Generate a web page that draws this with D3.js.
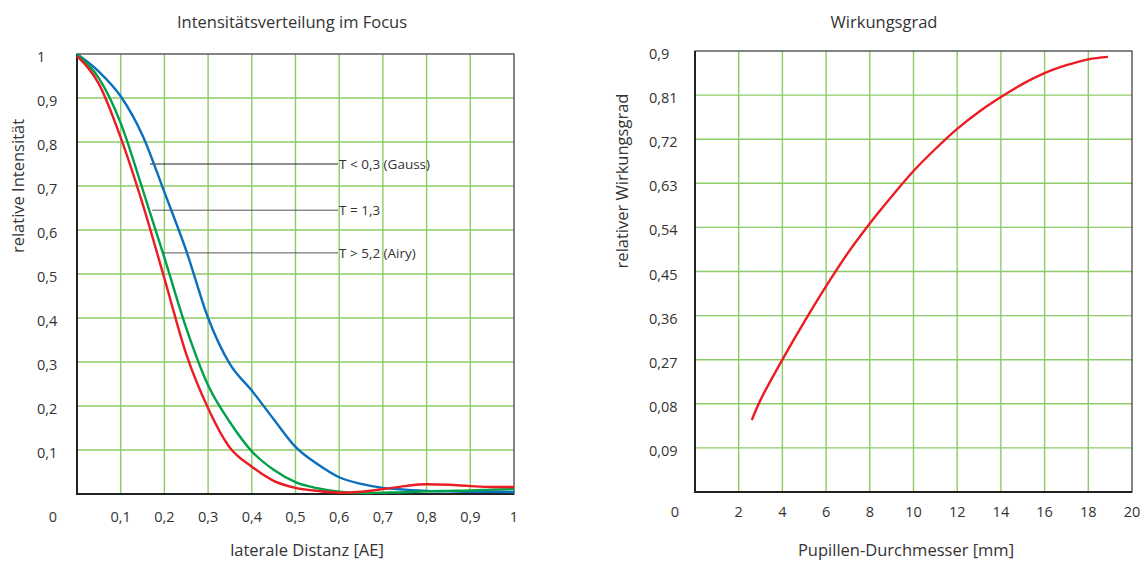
<!DOCTYPE html>
<html>
<head>
<meta charset="utf-8">
<script src="https://cdn.jsdelivr.net/npm/d3@7"></script>
<style>
    body { margin: 0; background: #fff; }
    text { font-family: "Open Sans", sans-serif; fill: #333; }
</style>
</head>
<body>
<div id="chart"></div>
<script>

// Left chart: Intensitätsverteilung im Focus
let distanz = [0, 0.05, 0.1, 0.15, 0.2, 0.25, 0.3, 0.35, 0.4, 0.45, 0.5, 0.55, 0.6, 0.65, 0.7, 0.75, 0.8, 0.85, 0.9, 0.95, 1];
let gauss = [1.0, 0.96, 0.904, 0.815, 0.686, 0.553, 0.40, 0.295, 0.235, 0.17, 0.107, 0.068, 0.038, 0.023, 0.014, 0.01, 0.007, 0.006, 0.005, 0.005, 0.004];
let mittel = [1.0, 0.945, 0.843, 0.693, 0.537, 0.377, 0.247, 0.163, 0.097, 0.055, 0.027, 0.013, 0.005, 0.002, 0.003, 0.004, 0.006, 0.007, 0.008, 0.01, 0.011];
let airy = [0.995, 0.932, 0.81, 0.66, 0.49, 0.318, 0.195, 0.105, 0.062, 0.03, 0.014, 0.007, 0.003, 0.005, 0.011, 0.018, 0.022, 0.021, 0.018, 0.016, 0.016];

let distTicks = [0.1, 0.2, 0.3, 0.4, 0.5, 0.6, 0.7, 0.8, 0.9, 1];
let distLabels = ["0,1", "0,2", "0,3", "0,4", "0,5", "0,6", "0,7", "0,8", "0,9", "1"];
let intTicks = [0.1, 0.2, 0.3, 0.4, 0.5, 0.6, 0.7, 0.8, 0.9, 1];
let intLabels = ["0,1", "0,2", "0,3", "0,4", "0,5", "0,6", "0,7", "0,8", "0,9", "1"];

// annotation labels: level, x where the line starts
let notes = ["T < 0,3 (Gauss)", "T = 1,3", "T > 5,2 (Airy)"];
let noteLevels = [0.75, 0.645, 0.548];
let noteStarts = [0.167, 0.172, 0.197];

// Right chart: Wirkungsgrad
let pupille = [2.6, 3, 4, 5, 6, 7, 8, 9, 10, 11, 12, 13, 14, 15, 16, 17, 18, 18.9];
let wirkung = [0.147, 0.188, 0.27, 0.347, 0.42, 0.488, 0.548, 0.603, 0.655, 0.7, 0.741, 0.776, 0.806, 0.833, 0.855, 0.871, 0.883, 0.888];

let pupTicks = [2, 4, 6, 8, 10, 12, 14, 16, 18, 20];
let pupLabels = ["2", "4", "6", "8", "10", "12", "14", "16", "18", "20"];
let wirkTicks = [0.09, 0.18, 0.27, 0.36, 0.45, 0.54, 0.63, 0.72, 0.81, 0.9];
let wirkLabels = ["0,09", "0,08", "0,27", "0,36", "0,45", "0,54", "0,63", "0,72", "0,81", "0,9"];

let svg = d3.select("#chart")
    .append("svg")
    .attr("width", 1145)
    .attr("height", 561);

function panel(opt) {

    let x = d3.scaleLinear().domain(opt.xDomain).range([opt.left, opt.right]);
    let y = d3.scaleLinear().domain(opt.yDomain).range([opt.bottom, opt.top]);

    let g = svg.append("g");

    // Grid
    g.selectAll(".vgrid")
        .data(opt.xTicks.slice(0, -1))
        .enter()
        .append("line")
        .attr("x1", d => x(d)).attr("x2", d => x(d))
        .attr("y1", opt.top).attr("y2", opt.bottom)
        .attr("stroke", "#8ccb66")
        .attr("stroke-width", 1.4);

    g.selectAll(".hgrid")
        .data(opt.yTicks.slice(0, -1))
        .enter()
        .append("line")
        .attr("x1", opt.left).attr("x2", opt.right)
        .attr("y1", d => y(d)).attr("y2", d => y(d))
        .attr("stroke", "#8ccb66")
        .attr("stroke-width", 1.4);

    // Frame
    g.append("rect")
        .attr("x", opt.left).attr("y", opt.top)
        .attr("width", opt.right - opt.left)
        .attr("height", opt.bottom - opt.top)
        .attr("fill", "none")
        .attr("stroke", "#444")
        .attr("stroke-width", 1.3);

    g.append("path")
        .attr("d", `M${opt.left},${opt.top}V${opt.bottom}H${opt.right}`)
        .attr("fill", "none")
        .attr("stroke", "#222")
        .attr("stroke-width", 2);

    // Tick labels
    g.selectAll(".ylab")
        .data(opt.yTicks)
        .enter()
        .append("text")
        .attr("x", opt.yLabelX)
        .attr("y", d => y(d) + 8)
        .attr("font-size", 14.5)
        .text((d, i) => opt.yLabels[i]);

    g.selectAll(".xlab")
        .data(opt.xTicks)
        .enter()
        .append("text")
        .attr("x", d => x(d))
        .attr("y", opt.xLabelY)
        .attr("text-anchor", "middle")
        .attr("font-size", 14.5)
        .text((d, i) => opt.xLabels[i]);

    g.append("text")
        .attr("x", opt.zeroX)
        .attr("y", opt.xLabelY)
        .attr("text-anchor", "middle")
        .attr("font-size", 14.5)
        .text("0");

    // Titles
    g.append("text")
        .attr("x", opt.titleX).attr("y", 28)
        .attr("text-anchor", "middle")
        .attr("font-size", 16.5)
        .text(opt.title);

    g.append("text")
        .attr("x", opt.xTitleX).attr("y", 556)
        .attr("text-anchor", "middle")
        .attr("font-size", 16.5)
        .text(opt.xTitle);

    g.append("text")
        .attr("transform", `translate(${opt.yTitleX},${opt.yTitleY}) rotate(-90)`)
        .attr("text-anchor", "middle")
        .attr("font-size", 16.5)
        .text(opt.yTitle);

    return { g, x, y };
}

// Left
let left = panel({
    left: 77, right: 514, top: 54, bottom: 494,
    xDomain: [0, 1], yDomain: [0, 1],
    xTicks: distTicks, xLabels: distLabels,
    yTicks: intTicks, yLabels: intLabels,
    yLabelX: 37, xLabelY: 522, zeroX: 53,
    title: "Intensitätsverteilung im Focus", titleX: 292,
    xTitle: "laterale Distanz [AE]", xTitleX: 307,
    yTitle: "relative Intensität", yTitleX: 24, yTitleY: 186
});

// Annotation lines
left.g.selectAll(".note-line")
    .data(notes)
    .enter()
    .append("line")
    .attr("x1", (d, i) => left.x(noteStarts[i]))
    .attr("x2", 338)
    .attr("y1", (d, i) => left.y(noteLevels[i]))
    .attr("y2", (d, i) => left.y(noteLevels[i]))
    .attr("stroke", (d, i) => i == 0 ? "#222" : "#555")
    .attr("stroke-width", 1);

left.g.selectAll(".note")
    .data(notes)
    .enter()
    .append("text")
    .attr("x", 339)
    .attr("y", (d, i) => left.y(noteLevels[i]) + 5)
    .attr("font-size", 13.5)
    .text(d => d);

let curve = d3.line()
    .x(d => left.x(d[0]))
    .y(d => left.y(d[1]))
    .curve(d3.curveMonotoneX);

let series = [
    { values: gauss, color: "#0a6fbf" },
    { values: mittel, color: "#00a14b" },
    { values: airy, color: "#ec1c24" }
];

left.g.selectAll(".curve")
    .data(series)
    .enter()
    .append("path")
    .attr("d", s => curve(distanz.map((d, i) => [d, s.values[i]])))
    .attr("fill", "none")
    .attr("stroke", s => s.color)
    .attr("stroke-width", 2.4);

// Right
let right = panel({
    left: 695, right: 1132, top: 51, bottom: 492,
    xDomain: [0, 20], yDomain: [0, 0.9],
    xTicks: pupTicks, xLabels: pupLabels,
    yTicks: wirkTicks, yLabels: wirkLabels,
    yLabelX: 649, xLabelY: 517, zeroX: 675,
    title: "Wirkungsgrad", titleX: 884,
    xTitle: "Pupillen-Durchmesser [mm]", xTitleX: 906,
    yTitle: "relativer Wirkungsgrad", yTitleX: 628, yTitleY: 181
});

let curve2 = d3.line()
    .x(d => right.x(d[0]))
    .y(d => right.y(d[1]))
    .curve(d3.curveCatmullRom.alpha(0.5));

right.g.append("path")
    .attr("d", curve2(pupille.map((d, i) => [d, wirkung[i]])))
    .attr("fill", "none")
    .attr("stroke", "#ec1c24")
    .attr("stroke-width", 2.4);

</script>
</body>
</html>
